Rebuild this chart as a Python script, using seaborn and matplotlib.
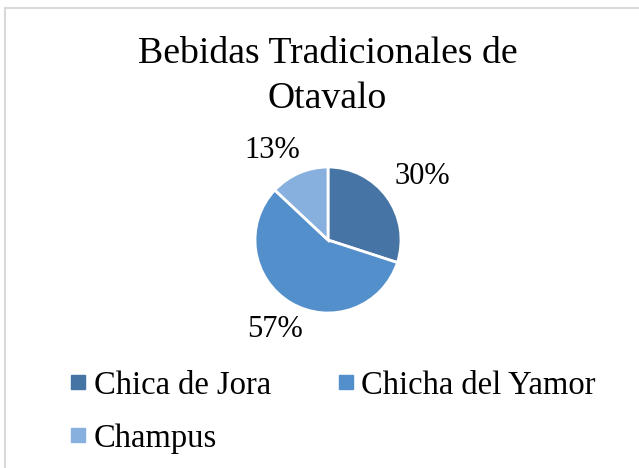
import matplotlib
matplotlib.use("Agg")
import numpy as np
import matplotlib.pyplot as plt
from matplotlib.lines import Line2D
from matplotlib.patches import Rectangle
import seaborn as sns

sns.set_theme(style="white")
plt.rcParams['font.family'] = ['Liberation Serif', 'DejaVu Serif']
plt.rcParams['text.color'] = '#000000'

categories = ["Chica de Jora", "Chicha del Yamor", "Champus"]
values = [30, 57, 13]
colors = ["#4674A5", "#5390CB", "#88B0DE"]
title_lines = ["Bebidas Tradicionales de", "Otavalo"]

W, H = 639, 468
fig = plt.figure(figsize=(W / 100, H / 100), dpi=100)
fig.patch.set_facecolor("white")

# light gray chart border (only top and left edges are inside the image)
fig.patches.append(Rectangle((5 / W, -0.1), 1.2, 1 - 8 / H + 0.1,
                             transform=fig.transFigure, fill=False,
                             edgecolor="#D9D9D9", linewidth=1.5))

cx, cy, r = 328, 240, 73
ax = fig.add_axes([(cx - r) / W, 1 - (cy + r) / H, 2 * r / W, 2 * r / H])
wedges, texts, autotexts = ax.pie(
    values, colors=colors, startangle=90, counterclock=False,
    autopct=lambda p: f"{p:.0f}%", pctdistance=1.45,
    wedgeprops=dict(edgecolor="white", linewidth=2),
    textprops=dict(fontsize=22, color="#000000"))

# best-fit style placement of the percentage labels
label_dist = [1.56, 1.43, 1.44]
label_shift = [-2.0, 0.0, 8.5]  # degrees
for w, t, d, s in zip(wedges, autotexts, label_dist, label_shift):
    ang = np.deg2rad((w.theta1 + w.theta2) / 2 + s)
    t.set_position((d * np.cos(ang), d * np.sin(ang)))
    t.set_ha("center")
    t.set_va("center")

ax.set_xlim(-1, 1)
ax.set_ylim(-1, 1)
ax.set_aspect("equal")
ax.axis("off")

for line, yb in zip(title_lines, [63, 108]):
    fig.text(327.5 / W, 1 - yb / H, line, ha="center", va="baseline",
             fontsize=27.2, color="#000000")

order = [0, 2, 1]  # row-wise legend layout in two columns
handles = [Line2D([0], [0], marker="s", linestyle="none", markersize=10,
                  markerfacecolor=colors[i], markeredgecolor=colors[i])
           for i in order]
fig.legend(handles, [categories[i] for i in order], loc="upper left",
           bbox_to_anchor=(70 / W, 1 - 370 / H), ncol=2, frameon=False,
           fontsize=23.5, labelcolor="#000000",
           handlelength=0.5, handletextpad=0.22,
           columnspacing=2.05, labelspacing=0.7, borderpad=0, borderaxespad=0)

fig.savefig("out.png", dpi=100)
